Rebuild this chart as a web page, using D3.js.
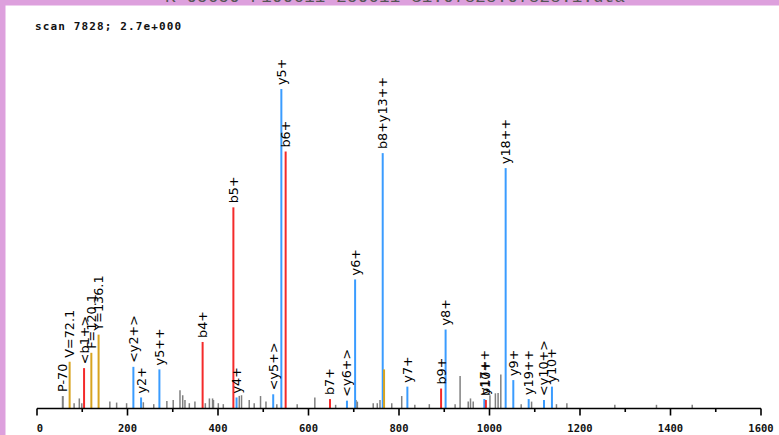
<!DOCTYPE html>
<html><head><meta charset="utf-8">
<script src="https://cdn.jsdelivr.net/npm/d3@7"></script>
<style>html,body{margin:0;padding:0;background:#fff;overflow:hidden}</style>
</head><body>
<script>
const fileTitle = "K-05650-F100611-250611-S1:07828:07828:1.dta";
const scanTitle = "scan 7828; 2.7e+000";
const xTicks = [0, 200, 400, 600, 800, 1000, 1200, 1400, 1600];
const xMinorTicks = [100, 300, 500, 700, 900, 1100, 1300, 1500];

// annotated peaks
const ionMz    = [57, 72.1, 104, 120.1, 136.1, 213, 230, 270.5, 366, 434, 441, 522, 540, 549.5, 647.5, 685, 703, 764, 767, 818.5, 893, 903, 988.5, 992, 1035.7, 1052.6, 1086.6, 1120.4, 1138];
const ionInt   = [3.75, 14.5, 12.5, 17.3, 23.0, 12.9, 3.3, 12.1, 20.7, 62.9, 3.3, 4.3, 100, 80.4, 2.8, 2.3, 40.3, 79.9, 12.1, 6.7, 6.1, 24.6, 2.8, 2.5, 75.2, 8.75, 2.8, 2.5, 6.7];
const ionType  = ["n","i","b","i","i","y","y","y","b","b","y","y","y","b","b","y","y","y","i","y","b","y","y","b","y","y","y","y","y"];
const ionLabel = ["P-70","V=72.1","<b1+>","F=120.1","Y=136.1","<y2+>","y2+","y5++","b4+","b5+","y4+","<y5+>","y5+","b6+","b7+","<y6+>","y6+","b8+y13++","","y7+","b9+","y8+","y17++","b10+","y18++","y9+","y19++","<y10+>","y10+"];

// unannotated (noise) peaks
const noiseMz  = [82, 93.5, 99, 161, 176, 198, 235, 258, 287, 301, 316, 322, 327, 336.6, 349, 372, 381, 388, 390, 400.7, 411.7, 447, 452, 469, 480, 494, 506, 530, 575, 614, 660, 705, 708, 743, 752, 758, 784, 806, 835, 867, 924, 935, 953, 958, 964, 1001, 1013, 1019, 1025, 1070, 1093, 1148, 1171, 1277, 1369, 1448];
const noiseInt = [1.5, 3.0, 1.5, 2.0, 1.7, 1.5, 1.8, 1.2, 2.2, 2.5, 5.6, 4.0, 2.5, 1.5, 2.0, 1.5, 3.0, 3.0, 2.5, 1.5, 1.2, 3.8, 4.0, 2.5, 1.5, 3.75, 2.0, 1.2, 1.2, 3.3, 1.0, 2.5, 2.0, 1.5, 1.5, 2.5, 1.5, 3.75, 1.0, 1.2, 1.2, 10.0, 2.0, 3.0, 2.0, 4.0, 4.6, 4.7, 10.5, 1.2, 2.0, 1.2, 1.5, 1.0, 1.0, 1.0];

const colors = {b: "#f42a2a", y: "#3a9cff", i: "#d8a420", n: "#808080"};

const W = 779, H = 435;
const svg = d3.select("body").append("svg").attr("width", W).attr("height", H);

// frame
svg.append("rect").attr("x",0).attr("y",0).attr("width",W).attr("height",H).attr("fill","#fff");
svg.append("rect").attr("x",0).attr("y",0).attr("width",W).attr("height",5.5).attr("fill","#dda0dd");
svg.append("rect").attr("x",0).attr("y",0).attr("width",5.5).attr("height",H).attr("fill","#dda0dd");
svg.append("text").attr("x",165).attr("y",2.2)
  .attr("font-family","Liberation Mono, DejaVu Sans Mono, monospace").attr("font-size",17.5)
  .attr("fill","#555").attr("textLength",460).attr("lengthAdjust","spacing").text(fileTitle);

svg.append("text").attr("x",35).attr("y",29.5)
  .attr("font-family","DejaVu Sans Mono, monospace").attr("font-weight","bold").attr("font-size",11)
  .attr("fill","#111").attr("textLength",146).attr("lengthAdjust","spacing").text(scanTitle);

const x = d3.scaleLinear().domain([0,1600]).range([37,761]);
const y = d3.scaleLinear().domain([0,100]).range([408,89]);

// noise peaks
const noise = noiseMz.map((m,i)=>({mz:m, v:noiseInt[i]}));
svg.append("g").selectAll("line").data(noise).join("line")
  .attr("x1",d=>x(d.mz)).attr("x2",d=>x(d.mz))
  .attr("y1",y(0)).attr("y2",d=>y(d.v))
  .attr("stroke","#808080").attr("stroke-width",1.5);

// ion peaks
const ions = ionMz.map((m,i)=>({mz:m, v:ionInt[i], t:ionType[i], l:ionLabel[i]}));
svg.append("g").selectAll("line").data(ions).join("line")
  .attr("x1",d=>x(d.mz)).attr("x2",d=>x(d.mz))
  .attr("y1",y(0)).attr("y2",d=>y(d.v))
  .attr("stroke",d=>colors[d.t]).attr("stroke-width",2);

svg.append("g").selectAll("text").data(ions.filter(d=>d.l)).join("text")
  .attr("transform",d=>`translate(${x(d.mz)+4.5},${y(d.v)-4}) rotate(-90)`)
  .attr("font-family","DejaVu Sans, sans-serif").attr("font-size",12.8)
  .attr("fill","#000").text(d=>d.l);

// axis
const axis = svg.append("g").attr("transform",`translate(0,${y(0)+0.5})`);
axis.append("line").attr("x1",x(0)).attr("x2",x(1600)).attr("y1",0).attr("y2",0)
  .attr("stroke","#000").attr("stroke-width",1.6);
axis.selectAll("line.maj").data(xTicks).join("line").attr("class","maj")
  .attr("x1",d=>x(d)).attr("x2",d=>x(d)).attr("y1",0).attr("y2",7)
  .attr("stroke","#000").attr("stroke-width",1.6);
axis.selectAll("line.min").data(xMinorTicks).join("line").attr("class","min")
  .attr("x1",d=>x(d)).attr("x2",d=>x(d)).attr("y1",0).attr("y2",3.5)
  .attr("stroke","#000").attr("stroke-width",1.6);
axis.selectAll("text").data(xTicks).join("text")
  .attr("x",d=>x(d)+ (d===0?3:0)).attr("y",23)
  .attr("text-anchor","middle")
  .attr("font-family","DejaVu Sans Mono, monospace").attr("font-weight","bold").attr("font-size",10.5)
  .attr("fill","#111").text(d=>d);
</script>
</body></html>
